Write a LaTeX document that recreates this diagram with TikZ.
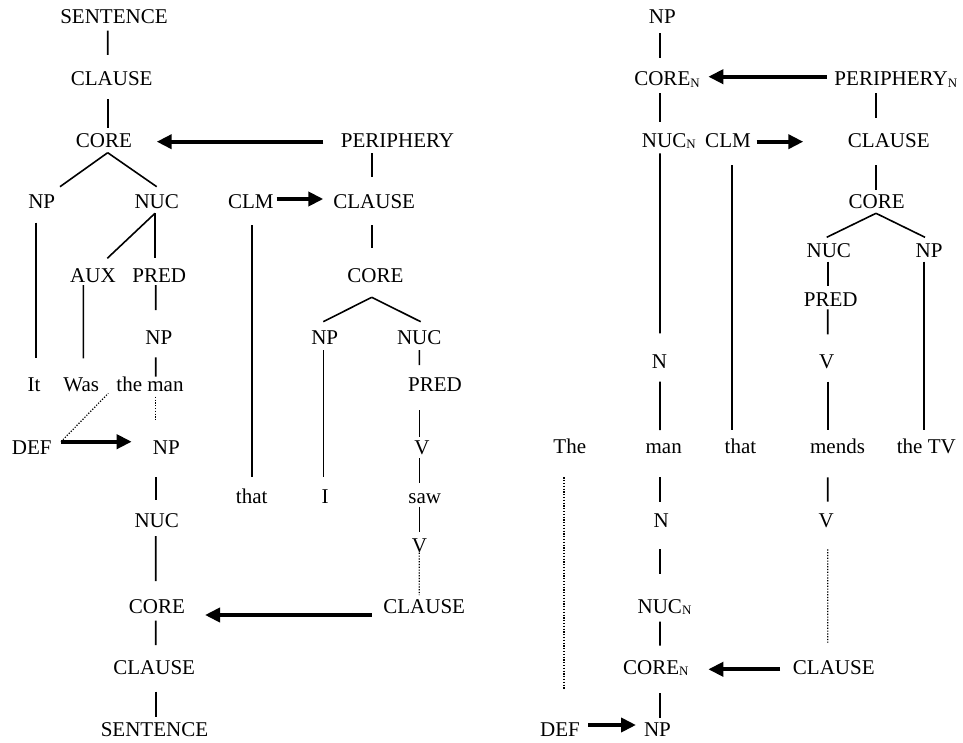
\documentclass[tikz,border=0pt]{standalone}
\usepackage{fontspec}
\setmainfont{Liberation Serif}
\usetikzlibrary{arrows.meta}

% small lowered N used as a subscript on CORE, NUC, PERIPHERY
\newcommand{\subN}{\raisebox{-1.3bp}{\fontsize{13pt}{13pt}\selectfont N}}
% connector between two labels, each end given as an offset from the label's base point
\newcommand{\tie}[5][tree]{\draw[#1] ([shift={#3}]#2.base) -- ([shift={#5}]#4.base);}

\tikzset{
  lbl/.style={inner sep=0pt, anchor=base, font=\fontsize{21.1pt}{25pt}\selectfont},
  tree/.style={line width=1.6bp},
  dots/.style={line width=1.2bp, dash pattern=on 1.2bp off 1.6bp},
  bigarrow/.style={line width=4bp, -{Triangle[length=15bp,width=14bp]}},
}

\begin{document}
\begin{tikzpicture}[x=1bp,y=-1bp]
\useasboundingbox (0,0) rectangle (963,743);

% ---------- left diagram: "It was the man that I saw" ----------
\node[lbl] (sL)     at (114,24)      {SENTENCE};
\node[lbl] (clL)    at (111.7,86)    {CLAUSE};
\node[lbl] (coL)    at (104,147.3)   {CORE};
\node[lbl] (per)    at (397.5,147.3) {PERIPHERY};
\node[lbl] (npL)    at (41.7,208.3)  {NP};
\node[lbl] (nucL)   at (156.7,208.3) {NUC};
\node[lbl] (clm)    at (250.8,208.3) {CLM};
\node[lbl] (cl2)    at (374.2,208.3) {CLAUSE};
\node[lbl] (aux)    at (93,282.7)    {AUX};
\node[lbl] (pred)   at (159.3,282.7) {PRED};
\node[lbl] (co2)    at (375.5,282.7) {CORE};
\node[lbl] (np2)    at (158.8,344)   {NP};
\node[lbl] (np3)    at (324.7,344)   {NP};
\node[lbl] (nuc3)   at (419.2,344)   {NUC};
\node[lbl] (it)     at (34,391.7)    {It};
\node[lbl] (was)    at (81.3,391.7)  {Was};
\node[lbl] (theman) at (150,391.7)   {the man};
\node[lbl] (pred3)  at (435,391.7)   {PRED};
\node[lbl] (def)    at (31.7,454)    {DEF};
\node[lbl] (np4)    at (166.3,454)   {NP};
\node[lbl] (v3)     at (422,454)     {V};
\node[lbl] (thatL)  at (251.7,503.3) {that};
\node[lbl] (wI)     at (325,503.3)   {I};
\node[lbl] (saw)    at (424.7,503.3) {saw};
\node[lbl] (nuc4)   at (156.7,527.7) {NUC};
\node[lbl] (v4)     at (419.5,552.7) {V};
\node[lbl] (co4)    at (157,613.3)   {CORE};
\node[lbl] (cl4)    at (424.2,613.3) {CLAUSE};
\node[lbl] (cl5)    at (154.2,674.3) {CLAUSE};
\node[lbl] (s5)     at (154.5,736)   {SENTENCE};

\tie{sL}{(-6.3,6.7)}{clL}{(-4,-31)}
\tie{clL}{(-4,13)}{coL}{(3.7,-19.6)}
\tie{coL}{(3.7,5.4)}{npL}{(18.3,-21.6)}
\tie{coL}{(3.7,5.4)}{nucL}{(0,-21.6)}
\tie{per}{(-25.8,6)}{cl2}{(-2.5,-31)}
\tie{npL}{(-5.7,14.4)}{it}{(2,-33.4)}
\tie{nucL}{(-1.7,5)}{aux}{(14.3,-24.4)}
\tie{nucL}{(-1.7,5)}{pred}{(-4.3,-24.4)}
\tie{clm}{(0.9,16.7)}{thatL}{(0,-26)}
\tie{cl2}{(-2.5,16.7)}{co2}{(-3.8,-34.4)}
\tie{aux}{(-9.7,2.3)}{was}{(2,-33.4)}
\tie{pred}{(-3.6,2.3)}{np2}{(-3.1,-34)}
\tie{co2}{(-3.8,14.6)}{np3}{(-1.4,-22.3)}
\tie{co2}{(-3.8,14.6)}{nuc3}{(1.5,-22.3)}
\tie{np2}{(-3.1,13.3)}{theman}{(5.7,-15)}
\tie{np3}{(-1.4,6)}{wI}{(-1.7,-26)}
\tie{nuc3}{(0.1,6)}{pred3}{(-15.7,-26.7)}
\tie[dots]{theman}{(5.7,5)}{np4}{(-10.6,-34)}
\tie[dots]{def}{(29.3,-12.3)}{theman}{(-41.7,1.6)}
\tie{pred3}{(-15.7,18.3)}{v3}{(-2.7,-17.3)}
\tie{v3}{(-2.7,4.3)}{saw}{(-5.4,-20)}
\tie{np4}{(-10.6,23.3)}{nuc4}{(-1,-27.7)}
\tie{saw}{(-5.4,3.4)}{v4}{(-0.2,-21)}
\tie{nuc4}{(-1,8.3)}{co4}{(-1.3,-32.3)}
\tie[dots]{v4}{(-0.2,0)}{cl4}{(-4.9,-18.3)}
\tie{co4}{(-1.3,7.4)}{cl5}{(1.5,-29.3)}
\tie{cl5}{(1.5,17.4)}{s5}{(1.2,-19.3)}

\tie[bigarrow]{per}{(-74.2,-5.6)}{coL}{(52.7,-5.6)}
\tie[bigarrow]{clm}{(25.9,-9.3)}{cl2}{(-50.9,-9.3)}
\tie[bigarrow]{def}{(29.3,-12.3)}{np4}{(-34.6,-12.3)}
\tie[bigarrow]{cl4}{(-52.5,1.7)}{co4}{(48,1.7)}

% ---------- right diagram: "The man that mends the TV" ----------
\node[lbl] (npR)   at (662.3,24)    {NP};
\node[lbl] (coN)   at (667,86)      {CORE\subN};
\node[lbl] (perN)  at (895.8,86)    {PERIPHERY\subN};
\node[lbl] (nucN)  at (668.8,147.3) {NUC\subN};
\node[lbl] (clmR)  at (728,147.3)   {CLM};
\node[lbl] (clR)   at (888.8,147.3) {CLAUSE};
\node[lbl] (coR)   at (876.7,208.3) {CORE};
\node[lbl] (nucR)  at (828.8,257.3) {NUC};
\node[lbl] (npR2)  at (929,257.3)   {NP};
\node[lbl] (predR) at (830.8,306.7) {PRED};
\node[lbl] (nR)    at (659.5,368.3) {N};
\node[lbl] (vR)    at (826.8,368.3) {V};
\node[lbl] (wThe)  at (569.8,453.3) {The};
\node[lbl] (man)   at (663.7,453.3) {man};
\node[lbl] (thatR) at (740.5,453.3) {that};
\node[lbl] (mends) at (837.5,453.3) {mends};
\node[lbl] (thetv) at (926.3,453.3) {the TV};
\node[lbl] (nR2)   at (661.2,527.7) {N};
\node[lbl] (vR2)   at (826.3,527.7) {V};
\node[lbl] (nucN2) at (664.5,613.3) {NUC\subN};
\node[lbl] (coN2)  at (655.8,674.3) {CORE\subN};
\node[lbl] (clR2)  at (833.8,674.3) {CLAUSE};
\node[lbl] (defR)  at (560,736)     {DEF};
\node[lbl] (npR3)  at (657.5,736)   {NP};

\tie{npR}{(-2.3,9.3)}{coN}{(-7,-27.7)}
\tie{coN}{(-7,7.3)}{nucN}{(-8.8,-25.6)}
\tie{perN}{(-19.8,7.3)}{clR}{(-12.8,-29)}
\tie{nucN}{(-8.8,6)}{nR}{(0.5,-35)}
\tie{clmR}{(3.7,17.7)}{thatR}{(-8.8,-23.3)}
\tie{clR}{(-12.8,17.7)}{coR}{(-0.7,-18.3)}
\tie{coR}{(-0.7,5)}{nucR}{(-2.1,-20)}
\tie{coR}{(-0.7,5)}{npR2}{(-4,-20)}
\tie{nucR}{(-1.1,4.4)}{predR}{(-3.1,-20.7)}
\tie{predR}{(-3.1,2.6)}{vR}{(0.9,-34)}
\tie{npR2}{(-5,4.4)}{thetv}{(-2.3,-23.3)}
\tie{nR}{(0.5,13.4)}{man}{(-3.7,-23.3)}
\tie{vR}{(0.9,13.4)}{mends}{(-9.8,-23.3)}
\tie[dots]{wThe}{(-5.8,24)}{defR}{(4,-46)}
\tie{man}{(-3.7,24)}{nR2}{(-1.2,-26)}
\tie{mends}{(-9.8,24)}{vR2}{(1.4,-26)}
\tie{nR2}{(-1.2,21.6)}{nucN2}{(-4.5,-39)}
\tie[dots]{vR2}{(1.4,21.6)}{clR2}{(-6.1,-31.6)}
\tie{nucN2}{(-4.5,8.4)}{coN2}{(4.2,-28.6)}
\tie{coN2}{(4.2,19)}{npR3}{(2.5,-17.7)}

\tie[bigarrow]{perN}{(-69.1,-9.3)}{coN}{(41.3,-9.3)}
\tie[bigarrow]{clmR}{(28.7,-5.6)}{clR}{(-85.5,-5.6)}
\tie[bigarrow]{clR2}{(-53.8,-5)}{coN2}{(52.5,-5)}
\tie[bigarrow]{defR}{(28.3,-11)}{npR3}{(-21.5,-11)}
\end{tikzpicture}
\end{document}
